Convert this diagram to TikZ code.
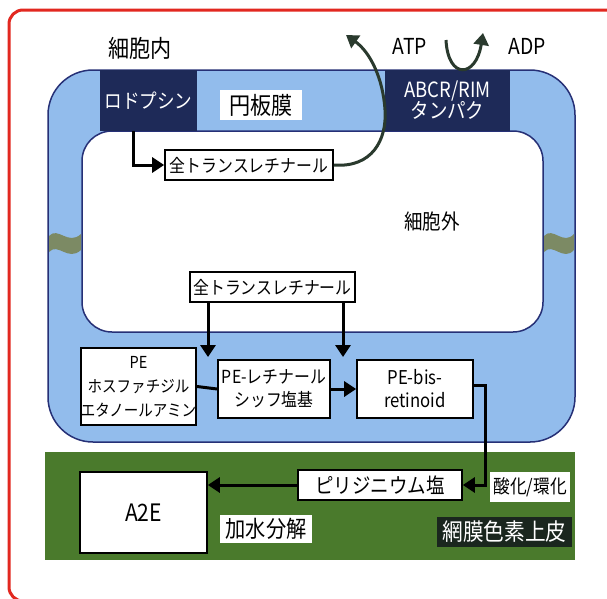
\documentclass[tikz,border=0pt]{standalone}
\usepackage{fontspec}
\setmainfont{Noto Sans CJK JP}[FakeStretch=0.88]
\usetikzlibrary{arrows.meta}
\definecolor{memblue}{RGB}{146,188,236}
\definecolor{navy}{RGB}{38,48,118}
\definecolor{darkbox}{RGB}{30,42,88}
\definecolor{rpegreen}{RGB}{74,122,44}
\definecolor{rpedark}{RGB}{26,38,30}
\definecolor{framered}{RGB}{226,40,32}
\definecolor{wavecol}{RGB}{124,138,100}
\definecolor{atparrow}{RGB}{42,58,46}
\begin{document}
\begin{tikzpicture}[x=1pt,y=-1pt,
  wbox/.style={draw=black,line width=1.6pt,fill=white,inner sep=0pt,align=center},
  dbox/.style={fill=darkbox,text=white,inner sep=0pt,align=center},
  lbl/.style={inner sep=0pt,align=center},
  flow/.style={line width=3pt,-{Triangle[width=15pt,length=12pt]}},
  plain/.style={line width=3pt},
  atpflow/.style={draw=atparrow,line width=3pt,-{Triangle[width=15pt,length=12pt]}},
  fs/.style={font=\fontsize{#1}{#1}\selectfont},
  fsl/.style 2 args={font=\fontsize{#1}{#2}\selectfont}]
\useasboundingbox (0,0) rectangle (607,598);
\clip (0,0) rectangle (607,598);
\fill[white] (0,0) rectangle (607,598);
% frame
\draw[framered,line width=3pt,rounded corners=14pt] (9,10) rectangle (640,601);
% membrane
\draw[navy,line width=1.5pt,fill=memblue,rounded corners=45pt] (48,70) rectangle (575,442);
\draw[navy,line width=1.5pt,fill=white,rounded corners=30pt] (82,131) rectangle (543,332);
% wavy marks
\fill[wavecol] (49,236) .. controls (58,226) and (68,246) .. (81,234) -- (81,250)
  .. controls (68,262) and (58,242) .. (49,252) -- cycle;
\fill[wavecol] (544,236) .. controls (553,226) and (563,246) .. (574,234) -- (574,250)
  .. controls (563,262) and (553,242) .. (544,252) -- cycle;
% green band
\fill[rpegreen] (45,452) rectangle (575,560);
% nodes
\node[lbl,fs=24] (inside) at (140,48) {細胞内};
\node[dbox,fs=20,minimum width=97pt,minimum height=61pt] (rho) at (148.5,100.5) {ロドプシン};
\node[lbl,fill=white,fs=24,minimum width=82pt,minimum height=30pt] (enban) at (261,105) {円板膜};
\node[dbox,fsl={21}{21},minimum width=125pt,minimum height=61pt] (abcr) at (447.5,100.5)
  {ABCR/RIM\\タンパク};
\node[lbl,fs=22] (atp) at (410,46) {ATP};
\node[lbl,fs=22] (adp) at (527,46) {ADP};
\node[wbox,fs=18,minimum width=168pt,minimum height=30pt] (atr1) at (249,165) {全トランスレチナール};
\node[lbl,fs=21] (outside) at (432,222) {細胞外};
\node[wbox,fs=18,minimum width=165pt,minimum height=30pt] (atr2) at (272.5,287) {全トランスレチナール};
\node[wbox,fsl={16.5}{24},minimum width=113pt,minimum height=77pt] (pe) at (138.5,386.5)
  {PE\\ホスファチジル\\エタノールアミン};
\node[wbox,fsl={18}{23},minimum width=112pt,minimum height=58pt] (peret) at (274,389)
  {PE-レチナール\\シッフ塩基};
\node[wbox,fsl={19}{23},minimum width=116pt,minimum height=58pt] (pebis) at (415,389)
  {PE-bis-\\retinoid};
\node[wbox,fs=24,minimum width=127pt,minimum height=81pt] (a2e) at (143.5,512.5) {A2E};
\node[wbox,fs=21,minimum width=164pt,minimum height=30pt] (pyr) at (380,485) {ピリジニウム塩};
\node[lbl,fill=white,fs=23,minimum width=92pt,minimum height=28pt] (kasui) at (266,529) {加水分解};
\node[lbl,fill=white,fs=19,minimum width=80pt,minimum height=30pt] (sanka) at (530,487) {酸化/環化};
\node[lbl,fill=rpedark,text=white,fs=23.5,minimum width=135pt,minimum height=30pt] (rpe) at (504.5,532) {網膜色素上皮};
% coordinates
\coordinate (upleft) at (346,35);
\coordinate (atpstart) at (446,40);
\coordinate (adptip) at (483,33);
\coordinate (t1) at (208,357);
\coordinate (t2) at (343,357);
% connectors
\draw[flow] ([xshift=-15pt]rho.south) |- (atr1.west);
\draw[atpflow] (atr1.east) .. controls (372,168) and (387,140) .. (385,110)
  .. controls (383,78) and (370,52) .. (upleft);
\draw[atpflow] (atpstart) .. controls (448,80) and (476,78) .. (adptip);
\draw[flow] (atr2.south -| t1) -- (t1);
\draw[flow] (atr2.south -| t2) -- (t2);
\draw[plain] (pe.east) -- (peret.west);
\draw[flow] (peret.east) -- (pebis.west);
\draw[flow] ([yshift=4pt]pebis.east) -| ++(12,0) |- (pyr.east);
\draw[flow] (pyr.west) -- (pyr.west -| a2e.east);
\end{tikzpicture}
\end{document}
